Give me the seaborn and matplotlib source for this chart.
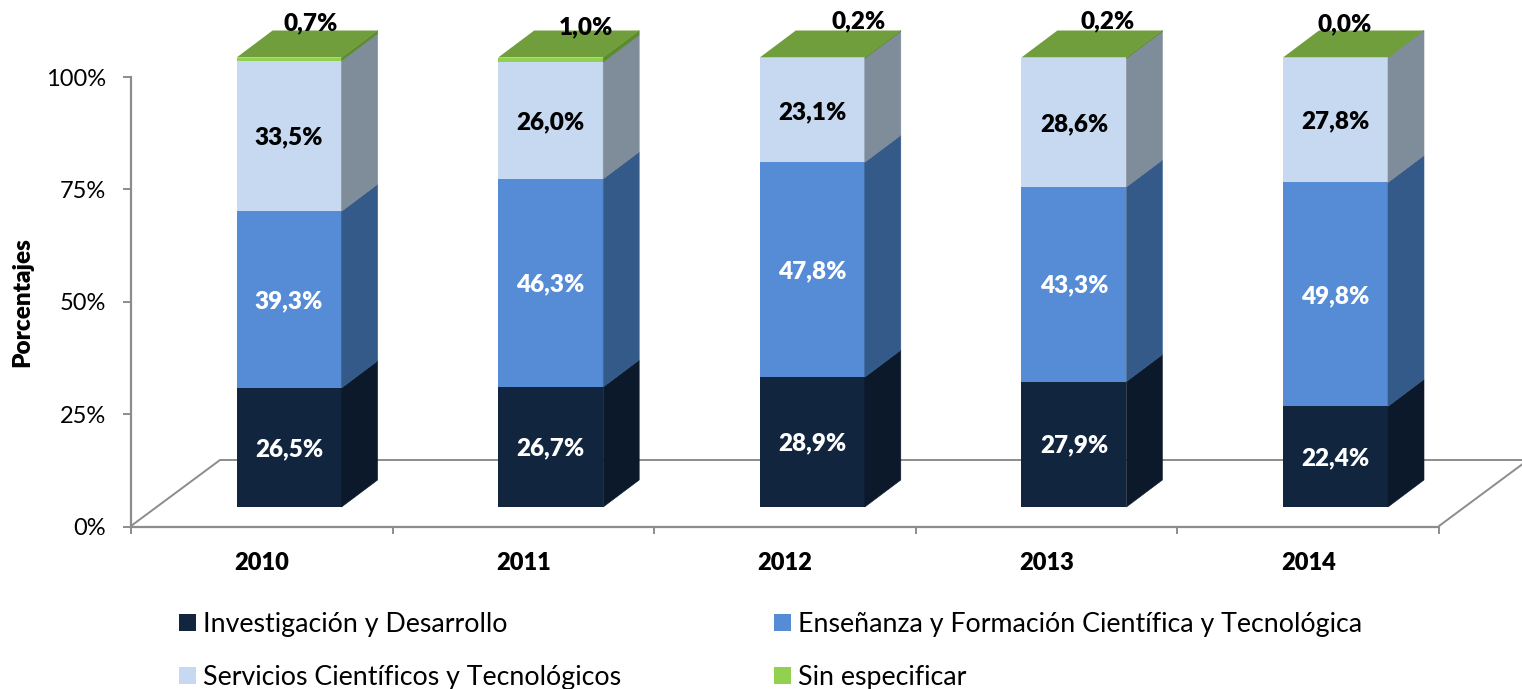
import matplotlib
matplotlib.use("Agg")
import numpy as np
import matplotlib.pyplot as plt
import seaborn as sns
from matplotlib.lines import Line2D
from matplotlib.patches import Patch, Polygon
from matplotlib.transforms import Affine2D, IdentityTransform

years = ["2010", "2011", "2012", "2013", "2014"]
investigacion = [26.5, 26.7, 28.9, 27.9, 22.4]
ensenanza = [39.3, 46.3, 47.8, 43.3, 49.8]
servicios = [33.5, 26.0, 23.1, 28.6, 27.8]
sin_especificar = [0.7, 1.0, 0.2, 0.2, 0.0]
names = ["Investigación y Desarrollo", "Enseñanza y Formación Científica y Tecnológica",
         "Servicios Científicos y Tecnológicos", "Sin especificar"]

front_colors = ["#12253F", "#568CD5", "#C6D9F1", "#92D050"]
side_colors = ["#0B192B", "#345A89", "#7F8C99", "#5C8A2E"]
top_color = "#709E3C"
text_colors = ["white", "white", "black"]
grey = "#8C8C8C"

sns.set_theme(style="white")
plt.rcParams["font.family"] = ["Lato", "DejaVu Sans"]

W, H = 1522, 689
fig = plt.figure(figsize=(W / 100, H / 100), dpi=100)
ax = fig.add_axes([131 / W, (H - 526.5) / H, 1308 / W, 449.5 / H])

# front of the bars sits in the middle of the fake 3d floor
shift = Affine2D().translate(27.3, 19.5)
text_shift = Affine2D().translate(27.3, 18)
bar_width = 105 / 261.6
depth_x = 36 / 261.6
depth_y = 27 / 4.495

series = [investigacion, ensenanza, servicios, sin_especificar]
bottom = np.zeros(5)
for vals, col, side in zip(series, front_colors, side_colors):
    n_before = len(ax.patches)
    sns.barplot(x=years, y=vals, bottom=bottom, color=col, saturation=1,
                width=bar_width, linewidth=0, ax=ax, zorder=3)
    for p in ax.patches[n_before:]:
        p.set_transform(ax.transData + shift)
        p.set_clip_on(False)
    for i, v in enumerate(vals):
        x1 = i + bar_width / 2
        y0, y1 = bottom[i], bottom[i] + v
        pts = [(x1, y0), (x1 + depth_x, y0 + depth_y), (x1 + depth_x, y1 + depth_y), (x1, y1)]
        ax.add_patch(Polygon(pts, closed=True, fc=side, ec=side, lw=0.4, clip_on=False,
                             transform=ax.transData + shift, zorder=3))
    bottom = bottom + np.array(vals)

# top face
for i in range(5):
    x0, x1 = i - bar_width / 2, i + bar_width / 2
    pts = [(x0, 100), (x0 + depth_x, 100 + depth_y), (x1 + depth_x, 100 + depth_y), (x1, 100)]
    ax.add_patch(Polygon(pts, closed=True, fc=top_color, ec="none", clip_on=False,
                         transform=ax.transData + shift, zorder=3))

# labels inside the bars
bottom = np.zeros(5)
for vals, col in zip(series[:3], text_colors):
    for i, v in enumerate(vals):
        ax.text(i, bottom[i] + v / 2, f"{v:.1f}%".replace(".", ","), ha="center", va="center",
                color=col, fontsize=17.5, fontweight=800, transform=ax.transData + text_shift, zorder=5)
    bottom = bottom + np.array(vals)

# labels of the small series were moved by hand in the original
label_dx = [22, 36, 47, 35, 10]
label_y = [23, 27, 21, 21, 24]
for i, v in enumerate(sin_especificar):
    bx = ax.transData.transform((i, 0))[0] + 26.5
    ax.text(bx + label_dx[i], H - label_y[i], f"{v:.1f}%".replace(".", ","), ha="center", va="center",
            color="black", fontsize=17.5, fontweight=800, transform=IdentityTransform(), zorder=5)

# floor lines, in pixels
floor = [[(131, 526), (220, 460), (1528, 460)], [(1439, 526), (1528, 460)]]
for seg in floor:
    xs, ys = zip(*seg)
    ax.add_line(Line2D(xs, [H - y for y in ys], color=grey, lw=1.4, clip_on=False,
                       transform=IdentityTransform(), zorder=1))

ax.set_xlim(-0.5, 4.5)
ax.set_ylim(0, 100)
ax.set_yticks([0, 25, 50, 75, 100])
ax.set_yticklabels(["0%", "25%", "50%", "75%", "100%"], fontsize=17, color="black")
ax.tick_params(axis="y", left=True, length=5.8, width=1.4, color=grey, pad=12)
ax.set_xticks(np.arange(-0.5, 5, 1), minor=True)
ax.tick_params(axis="x", which="minor", bottom=True, length=5, width=1.4, color=grey)
ax.tick_params(axis="x", which="major", bottom=False, pad=12)
for lab in ax.get_xticklabels():
    lab.set_fontsize(17)
    lab.set_fontweight(800)
    lab.set_color("black")
ax.set_xlabel("")
ax.set_ylabel("")
fig.text(22 / W, (H - 302) / H, "Porcentajes", rotation=90, ha="center", va="center",
         fontsize=17.5, fontweight=800, color="black")

for s in ["top", "right"]:
    ax.spines[s].set_visible(False)
for s in ["left", "bottom"]:
    ax.spines[s].set_color(grey)
    ax.spines[s].set_linewidth(1.6)
ax.patch.set_alpha(0)

order = [0, 2, 1, 3]
handles = [Patch(fc=front_colors[k], ec="none") for k in order]
fig.legend(handles, [names[k] for k in order], ncols=2, frameon=False, loc="lower left",
           bbox_to_anchor=(179 / W, -1 / H), fontsize=19.3, handlelength=0.63, handleheight=0.63,
           handletextpad=0.26, columnspacing=5.72, labelspacing=1.05, labelcolor="black",
           borderpad=0, borderaxespad=0)

fig.savefig("out.png", dpi=100)
